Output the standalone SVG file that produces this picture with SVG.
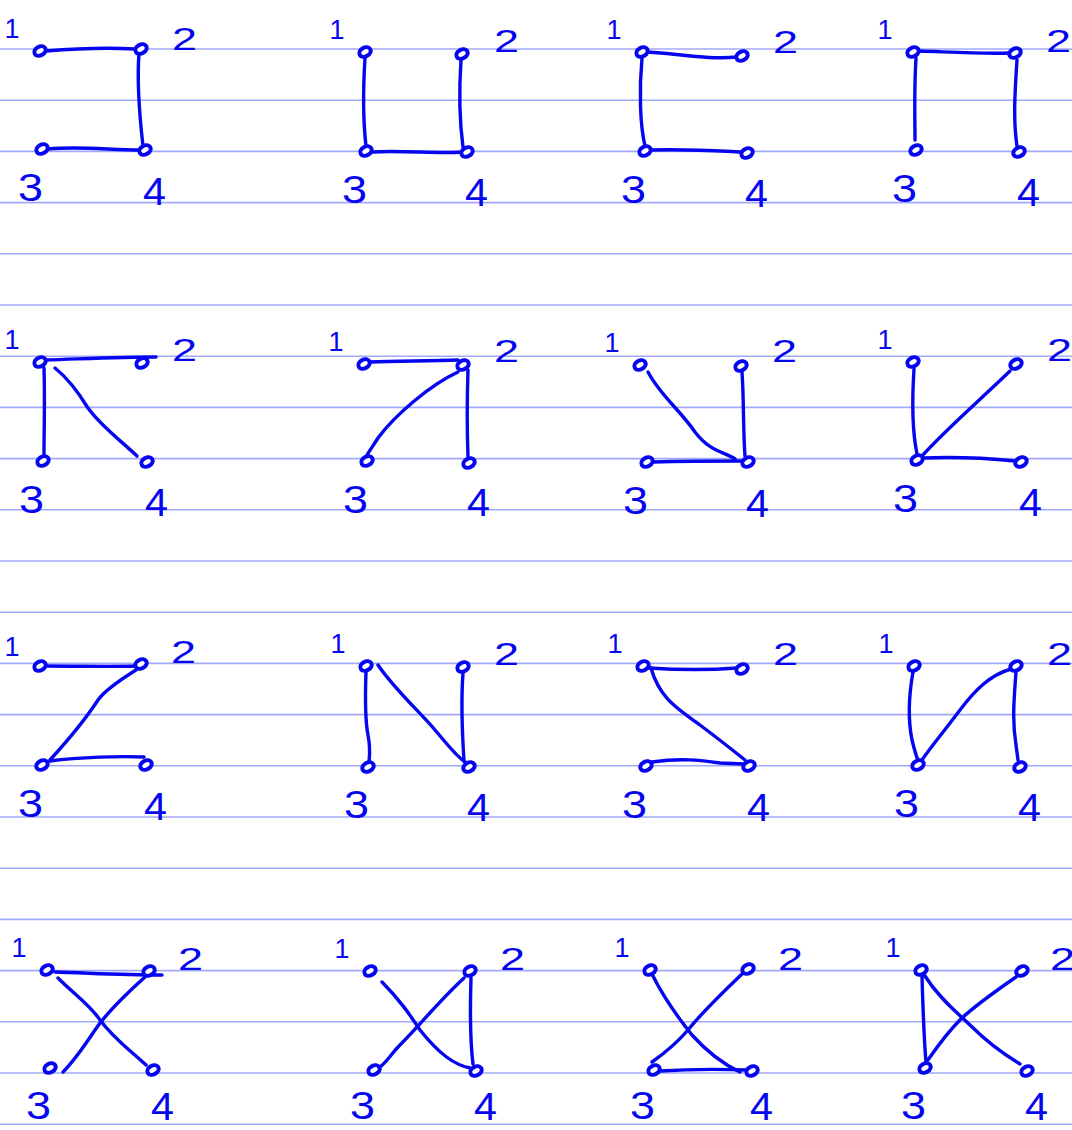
<svg xmlns="http://www.w3.org/2000/svg" width="1072" height="1130" viewBox="0 0 1072 1130">
<style>
.rule{stroke:#a3a9fa;stroke-width:1.6;fill:none}
.e{stroke:#0505f0;stroke-width:3.4;fill:none;stroke-linecap:round;stroke-linejoin:round}
.n{stroke:#0505f0;stroke-width:4;fill:#ffffff}
.l{font-family:"Liberation Sans",Arial,sans-serif;fill:#0505f0}
.a{font-size:27px}
.b{font-size:31px}
.c{font-size:38px}
.d{font-size:38px}
</style>
<defs>
<ellipse id="dot" class="n" cx="0" cy="0" rx="6" ry="4.4" transform="rotate(-30)"/>
</defs>
<rect width="1072" height="1130" fill="#ffffff"/>
<g id="rules">
<line class="rule" x1="0" y1="49" x2="1072" y2="49"/>
<line class="rule" x1="0" y1="100.2" x2="1072" y2="100.2"/>
<line class="rule" x1="0" y1="151.4" x2="1072" y2="151.4"/>
<line class="rule" x1="0" y1="202.6" x2="1072" y2="202.6"/>
<line class="rule" x1="0" y1="253.8" x2="1072" y2="253.8"/>
<line class="rule" x1="0" y1="305" x2="1072" y2="305"/>
<line class="rule" x1="0" y1="356.2" x2="1072" y2="356.2"/>
<line class="rule" x1="0" y1="407.4" x2="1072" y2="407.4"/>
<line class="rule" x1="0" y1="458.6" x2="1072" y2="458.6"/>
<line class="rule" x1="0" y1="509.8" x2="1072" y2="509.8"/>
<line class="rule" x1="0" y1="561" x2="1072" y2="561"/>
<line class="rule" x1="0" y1="612.2" x2="1072" y2="612.2"/>
<line class="rule" x1="0" y1="663.4" x2="1072" y2="663.4"/>
<line class="rule" x1="0" y1="714.6" x2="1072" y2="714.6"/>
<line class="rule" x1="0" y1="765.8" x2="1072" y2="765.8"/>
<line class="rule" x1="0" y1="817" x2="1072" y2="817"/>
<line class="rule" x1="0" y1="868.2" x2="1072" y2="868.2"/>
<line class="rule" x1="0" y1="919.4" x2="1072" y2="919.4"/>
<line class="rule" x1="0" y1="970.6" x2="1072" y2="970.6"/>
<line class="rule" x1="0" y1="1021.8" x2="1072" y2="1021.8"/>
<line class="rule" x1="0" y1="1073" x2="1072" y2="1073"/>
<line class="rule" x1="0" y1="1124.2" x2="1072" y2="1124.2"/>
</g>
<g id="connectors">
<path class="e" d="M46 51 C70 49 100 47 135 49"/>
<path class="e" d="M139 53 C137 80 140 120 143 146"/>
<path class="e" d="M48 149 C80 146 110 150 140 150"/>
<path class="e" d="M365 58 C363 90 363 120 366 146"/>
<path class="e" d="M461 60 C459 90 460 125 463 147"/>
<path class="e" d="M372 152 C400 150 440 154 462 152"/>
<path class="e" d="M648 52 C680 54 710 60 737 57"/>
<path class="e" d="M642 58 C639 90 640 125 645 146"/>
<path class="e" d="M651 150 C690 149 720 151 742 152"/>
<path class="e" d="M919 51 C950 52 980 54 1010 53"/>
<path class="e" d="M916 58 C914 90 915 120 915 140"/>
<path class="e" d="M1017 60 C1015 90 1013 120 1017 146"/>
<path class="e" d="M46 360 C80 359 120 357 156 357"/>
<path class="e" d="M44 368 C45 400 44 430 44 455"/>
<path class="e" d="M55 368 C70 380 80 395 88 408 C100 425 120 440 137 456"/>
<path class="e" d="M370 362 C400 361 430 361 458 360"/>
<path class="e" d="M458 372 C430 385 395 415 378 438 C373 446 370 450 367 455"/>
<path class="e" d="M468 370 C467 400 467 430 468 457"/>
<path class="e" d="M648 372 C660 395 680 410 695 432 C710 452 725 452 735 459"/>
<path class="e" d="M742 372 C744 400 743 430 745 456"/>
<path class="e" d="M653 462 C690 461 720 461 742 461"/>
<path class="e" d="M914 369 C912 400 912 430 917 454"/>
<path class="e" d="M1010 371 C980 400 945 430 921 457"/>
<path class="e" d="M923 458 C950 457 985 458 1015 461"/>
<path class="e" d="M46 666 C80 666 110 667 136 666"/>
<path class="e" d="M136 670 C120 680 105 690 98 700 C85 720 70 738 50 760"/>
<path class="e" d="M50 761 C80 757 120 756 144 757"/>
<path class="e" d="M366 672 C365 700 365 720 368 735 C371 750 369 760 369 762"/>
<path class="e" d="M378 665 C395 690 420 712 435 730 C448 745 455 755 465 762"/>
<path class="e" d="M463 673 C461 700 462 730 464 761"/>
<path class="e" d="M649 668 C680 670 710 670 737 668"/>
<path class="e" d="M651 668 C660 700 680 710 700 725 C720 740 735 752 745 760"/>
<path class="e" d="M652 762 C680 758 700 760 720 763 L744 764"/>
<path class="e" d="M913 672 C908 700 908 720 912 740 C915 752 917 758 918 760"/>
<path class="e" d="M1011 669 C990 675 975 690 960 710 C945 730 930 748 922 760"/>
<path class="e" d="M1016 672 C1014 700 1012 720 1016 745 L1018 760"/>
<path class="e" d="M55 972 C90 973 120 975 162 975"/>
<path class="e" d="M58 978 C75 995 90 1005 100 1020 C115 1040 130 1050 146 1065"/>
<path class="e" d="M145 977 C125 995 105 1015 95 1030 C85 1045 75 1060 63 1072"/>
<path class="e" d="M382 982 C400 1000 410 1015 420 1030 C440 1055 455 1065 470 1068"/>
<path class="e" d="M464 978 C440 1000 420 1025 400 1045 C390 1055 385 1065 378 1068"/>
<path class="e" d="M471 978 C470 1010 470 1040 473 1064"/>
<path class="e" d="M653 976 C665 1000 680 1020 692 1035 C710 1055 725 1065 740 1072"/>
<path class="e" d="M742 974 C720 995 700 1015 688 1030 C675 1045 662 1055 652 1062"/>
<path class="e" d="M660 1071 C690 1069 720 1069 748 1070"/>
<path class="e" d="M922 976 C923 1010 924 1040 926 1062"/>
<path class="e" d="M925 976 C940 1000 960 1015 970 1025 C990 1045 1005 1055 1020 1064"/>
<path class="e" d="M1016 977 C990 995 970 1010 960 1020 C945 1035 935 1050 928 1060"/>
</g>
<g id="t1-n1"><use href="#dot" x="40" y="51"/><text class="l a" x="12" y="38" text-anchor="middle">1</text></g>
<g id="t1-n2"><use href="#dot" x="141" y="49"/><text class="l b" x="172" y="50" textLength="25" lengthAdjust="spacingAndGlyphs">2</text></g>
<g id="t1-n3"><use href="#dot" x="42" y="149"/><text class="l c" x="18" y="201" textLength="25" lengthAdjust="spacingAndGlyphs">3</text></g>
<g id="t1-n4"><use href="#dot" x="145" y="150"/><text class="l d" x="143" y="205" textLength="23" lengthAdjust="spacingAndGlyphs">4</text></g>
<g id="t2-n1"><use href="#dot" x="365" y="52"/><text class="l a" x="337" y="39" text-anchor="middle">1</text></g>
<g id="t2-n2"><use href="#dot" x="462" y="54"/><text class="l b" x="494" y="52" textLength="25" lengthAdjust="spacingAndGlyphs">2</text></g>
<g id="t2-n3"><use href="#dot" x="366" y="151"/><text class="l c" x="342" y="203" textLength="25" lengthAdjust="spacingAndGlyphs">3</text></g>
<g id="t2-n4"><use href="#dot" x="467" y="152"/><text class="l d" x="465" y="206" textLength="23" lengthAdjust="spacingAndGlyphs">4</text></g>
<g id="t3-n1"><use href="#dot" x="642" y="52"/><text class="l a" x="614" y="39" text-anchor="middle">1</text></g>
<g id="t3-n2"><use href="#dot" x="742" y="56"/><text class="l b" x="773" y="53" textLength="25" lengthAdjust="spacingAndGlyphs">2</text></g>
<g id="t3-n3"><use href="#dot" x="645" y="151"/><text class="l c" x="621" y="203" textLength="25" lengthAdjust="spacingAndGlyphs">3</text></g>
<g id="t3-n4"><use href="#dot" x="747" y="153"/><text class="l d" x="745" y="207" textLength="23" lengthAdjust="spacingAndGlyphs">4</text></g>
<g id="t4-n1"><use href="#dot" x="913" y="52"/><text class="l a" x="885" y="39" text-anchor="middle">1</text></g>
<g id="t4-n2"><use href="#dot" x="1015" y="53"/><text class="l b" x="1046" y="52" textLength="25" lengthAdjust="spacingAndGlyphs">2</text></g>
<g id="t4-n3"><use href="#dot" x="916" y="150"/><text class="l c" x="892" y="202" textLength="25" lengthAdjust="spacingAndGlyphs">3</text></g>
<g id="t4-n4"><use href="#dot" x="1019" y="152"/><text class="l d" x="1017" y="206" textLength="23" lengthAdjust="spacingAndGlyphs">4</text></g>
<g id="t5-n1"><use href="#dot" x="40" y="362"/><text class="l a" x="12" y="349" text-anchor="middle">1</text></g>
<g id="t5-n2"><use href="#dot" x="142" y="363"/><text class="l b" x="172" y="361" textLength="25" lengthAdjust="spacingAndGlyphs">2</text></g>
<g id="t5-n3"><use href="#dot" x="43" y="461"/><text class="l c" x="19" y="513" textLength="25" lengthAdjust="spacingAndGlyphs">3</text></g>
<g id="t5-n4"><use href="#dot" x="147" y="462"/><text class="l d" x="145" y="516" textLength="23" lengthAdjust="spacingAndGlyphs">4</text></g>
<g id="t6-n1"><use href="#dot" x="364" y="364"/><text class="l a" x="336" y="351" text-anchor="middle">1</text></g>
<g id="t6-n2"><use href="#dot" x="463" y="365"/><text class="l b" x="494" y="362" textLength="25" lengthAdjust="spacingAndGlyphs">2</text></g>
<g id="t6-n3"><use href="#dot" x="367" y="461"/><text class="l c" x="343" y="513" textLength="25" lengthAdjust="spacingAndGlyphs">3</text></g>
<g id="t6-n4"><use href="#dot" x="469" y="463"/><text class="l d" x="467" y="516" textLength="23" lengthAdjust="spacingAndGlyphs">4</text></g>
<g id="t7-n1"><use href="#dot" x="640" y="365"/><text class="l a" x="612" y="352" text-anchor="middle">1</text></g>
<g id="t7-n2"><use href="#dot" x="741" y="366"/><text class="l b" x="772" y="362" textLength="25" lengthAdjust="spacingAndGlyphs">2</text></g>
<g id="t7-n3"><use href="#dot" x="647" y="462"/><text class="l c" x="623" y="514" textLength="25" lengthAdjust="spacingAndGlyphs">3</text></g>
<g id="t7-n4"><use href="#dot" x="748" y="462"/><text class="l d" x="746" y="517" textLength="23" lengthAdjust="spacingAndGlyphs">4</text></g>
<g id="t8-n1"><use href="#dot" x="913" y="362"/><text class="l a" x="885" y="349" text-anchor="middle">1</text></g>
<g id="t8-n2"><use href="#dot" x="1016" y="364"/><text class="l b" x="1047" y="361" textLength="25" lengthAdjust="spacingAndGlyphs">2</text></g>
<g id="t8-n3"><use href="#dot" x="917" y="460"/><text class="l c" x="893" y="512" textLength="25" lengthAdjust="spacingAndGlyphs">3</text></g>
<g id="t8-n4"><use href="#dot" x="1021" y="462"/><text class="l d" x="1019" y="516" textLength="23" lengthAdjust="spacingAndGlyphs">4</text></g>
<g id="t9-n1"><use href="#dot" x="40" y="666"/><text class="l a" x="12" y="656" text-anchor="middle">1</text></g>
<g id="t9-n2"><use href="#dot" x="141" y="664"/><text class="l b" x="171" y="663" textLength="25" lengthAdjust="spacingAndGlyphs">2</text></g>
<g id="t9-n3"><use href="#dot" x="42" y="765"/><text class="l c" x="18" y="817" textLength="25" lengthAdjust="spacingAndGlyphs">3</text></g>
<g id="t9-n4"><use href="#dot" x="146" y="765"/><text class="l d" x="144" y="820" textLength="23" lengthAdjust="spacingAndGlyphs">4</text></g>
<g id="t10-n1"><use href="#dot" x="366" y="666"/><text class="l a" x="338" y="653" text-anchor="middle">1</text></g>
<g id="t10-n2"><use href="#dot" x="463" y="667"/><text class="l b" x="494" y="665" textLength="25" lengthAdjust="spacingAndGlyphs">2</text></g>
<g id="t10-n3"><use href="#dot" x="368" y="767"/><text class="l c" x="344" y="818" textLength="25" lengthAdjust="spacingAndGlyphs">3</text></g>
<g id="t10-n4"><use href="#dot" x="469" y="767"/><text class="l d" x="467" y="821" textLength="23" lengthAdjust="spacingAndGlyphs">4</text></g>
<g id="t11-n1"><use href="#dot" x="643" y="666"/><text class="l a" x="615" y="653" text-anchor="middle">1</text></g>
<g id="t11-n2"><use href="#dot" x="742" y="669"/><text class="l b" x="773" y="665" textLength="25" lengthAdjust="spacingAndGlyphs">2</text></g>
<g id="t11-n3"><use href="#dot" x="646" y="766"/><text class="l c" x="622" y="818" textLength="25" lengthAdjust="spacingAndGlyphs">3</text></g>
<g id="t11-n4"><use href="#dot" x="749" y="766"/><text class="l d" x="747" y="821" textLength="23" lengthAdjust="spacingAndGlyphs">4</text></g>
<g id="t12-n1"><use href="#dot" x="914" y="666"/><text class="l a" x="886" y="653" text-anchor="middle">1</text></g>
<g id="t12-n2"><use href="#dot" x="1016" y="666"/><text class="l b" x="1047" y="665" textLength="25" lengthAdjust="spacingAndGlyphs">2</text></g>
<g id="t12-n3"><use href="#dot" x="918" y="765"/><text class="l c" x="894" y="817" textLength="25" lengthAdjust="spacingAndGlyphs">3</text></g>
<g id="t12-n4"><use href="#dot" x="1020" y="767"/><text class="l d" x="1018" y="821" textLength="23" lengthAdjust="spacingAndGlyphs">4</text></g>
<g id="t13-n1"><use href="#dot" x="47" y="970"/><text class="l a" x="19" y="957" text-anchor="middle">1</text></g>
<g id="t13-n2"><use href="#dot" x="149" y="971"/><text class="l b" x="178" y="970" textLength="25" lengthAdjust="spacingAndGlyphs">2</text></g>
<g id="t13-n3"><use href="#dot" x="50" y="1068"/><text class="l c" x="26" y="1119" textLength="25" lengthAdjust="spacingAndGlyphs">3</text></g>
<g id="t13-n4"><use href="#dot" x="153" y="1070"/><text class="l d" x="151" y="1120" textLength="23" lengthAdjust="spacingAndGlyphs">4</text></g>
<g id="t14-n1"><use href="#dot" x="370" y="971"/><text class="l a" x="342" y="958" text-anchor="middle">1</text></g>
<g id="t14-n2"><use href="#dot" x="470" y="971"/><text class="l b" x="500" y="970" textLength="25" lengthAdjust="spacingAndGlyphs">2</text></g>
<g id="t14-n3"><use href="#dot" x="374" y="1070"/><text class="l c" x="350" y="1119" textLength="25" lengthAdjust="spacingAndGlyphs">3</text></g>
<g id="t14-n4"><use href="#dot" x="476" y="1071"/><text class="l d" x="474" y="1120" textLength="23" lengthAdjust="spacingAndGlyphs">4</text></g>
<g id="t15-n1"><use href="#dot" x="650" y="970"/><text class="l a" x="622" y="957" text-anchor="middle">1</text></g>
<g id="t15-n2"><use href="#dot" x="748" y="969"/><text class="l b" x="778" y="970" textLength="25" lengthAdjust="spacingAndGlyphs">2</text></g>
<g id="t15-n3"><use href="#dot" x="654" y="1070"/><text class="l c" x="630" y="1119" textLength="25" lengthAdjust="spacingAndGlyphs">3</text></g>
<g id="t15-n4"><use href="#dot" x="752" y="1071"/><text class="l d" x="750" y="1120" textLength="23" lengthAdjust="spacingAndGlyphs">4</text></g>
<g id="t16-n1"><use href="#dot" x="921" y="970"/><text class="l a" x="893" y="957" text-anchor="middle">1</text></g>
<g id="t16-n2"><use href="#dot" x="1022" y="971"/><text class="l b" x="1050" y="970" textLength="25" lengthAdjust="spacingAndGlyphs">2</text></g>
<g id="t16-n3"><use href="#dot" x="925" y="1068"/><text class="l c" x="901" y="1119" textLength="25" lengthAdjust="spacingAndGlyphs">3</text></g>
<g id="t16-n4"><use href="#dot" x="1027" y="1071"/><text class="l d" x="1025" y="1120" textLength="23" lengthAdjust="spacingAndGlyphs">4</text></g>
</svg>
